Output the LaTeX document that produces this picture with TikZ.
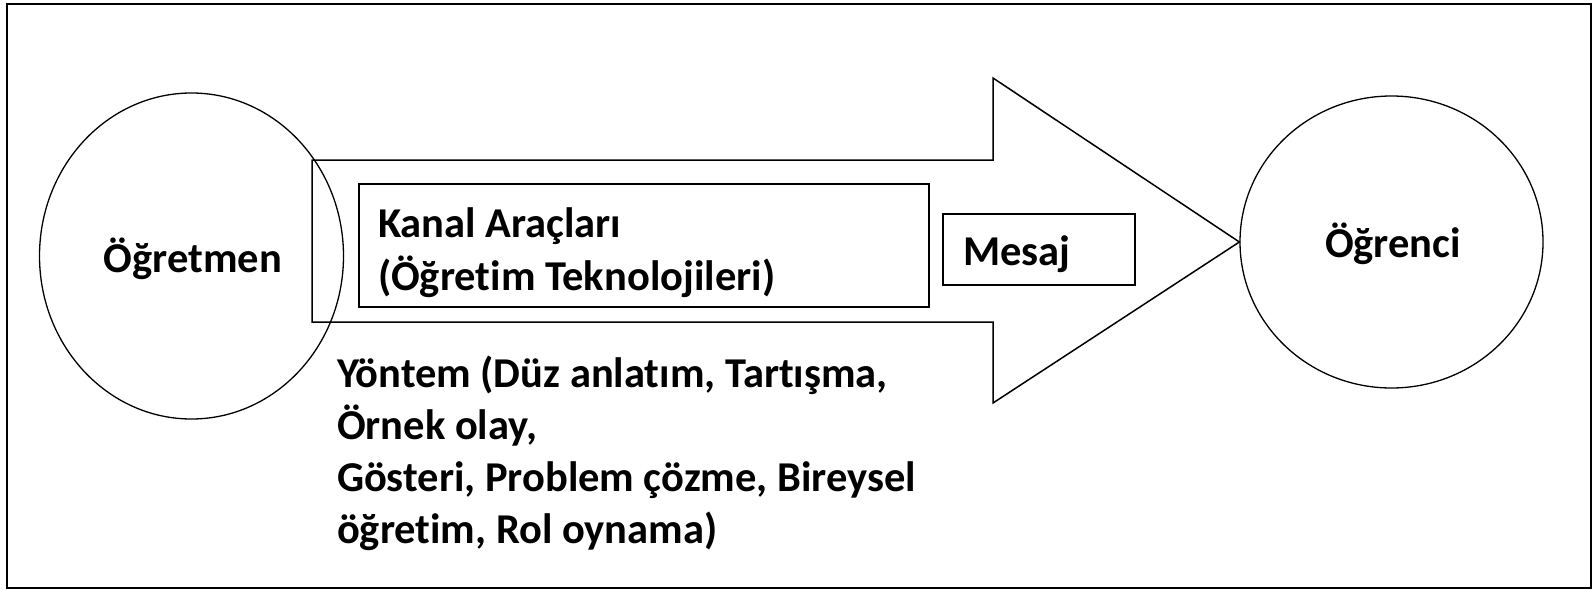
\documentclass[tikz,border=0pt]{standalone}
\usepackage{fontspec}
\setmainfont{Carlito}[Ligatures=NoCommon]
\usetikzlibrary{shapes.geometric}
\begin{document}
\begin{tikzpicture}[x=1pt,y=-1pt,
  txt/.style={font=\fontsize{42.5}{51}\selectfont\bfseries, inner sep=0pt, outer sep=0pt},
  circ/.style={draw, ellipse, line width=1.3pt, inner sep=0pt},
  box/.style={draw, rectangle, line width=1.8pt, inner sep=0pt},
  arrowshape/.style={draw, line width=1.5pt, line join=miter}
]
\useasboundingbox (0,0) rectangle (1592,589);
\draw[line width=2pt] (7,4) rectangle (1591,588);

\node[circ, minimum width=304pt, minimum height=326pt] (teacher) at (191.5,256) {};
\node[circ, minimum width=303pt, minimum height=292pt] (student) at (1391.5,242) {};

\draw[arrowshape] (312,160) -- (993,160) -- (993,78) -- (student.west) -- (993,403) -- (993,322) -- (312,322) -- cycle;

\node[box, minimum width=570pt, minimum height=123pt] (kanalbox) at (644,245.5) {};
\node[box, minimum width=192pt, minimum height=71pt] (mesajbox) at (1039,249.5) {};

\node[txt, anchor=base] (teachertxt) at (193,272) {Öğretmen};
\node[txt, anchor=base] (studenttxt) at (1393,257) {Öğrenci};
\node[txt, anchor=base west] (mesajtxt) at (963,265) {Mesaj};
\node[txt, anchor=base west, align=left, font=\fontsize{42.5}{53}\selectfont\bfseries] (kanaltxt) at (378,290) {Kanal Araçları\\(Öğretim Teknolojileri)};
\node[txt, anchor=base west, align=left, font=\fontsize{42.5}{52}\selectfont\bfseries] (yontemtxt) at (337,543) {Yöntem (Düz anlatım, Tartışma,\\Örnek olay,\\Gösteri, Problem çözme, Bireysel\\öğretim, Rol oynama)};
\end{tikzpicture}
\end{document}
